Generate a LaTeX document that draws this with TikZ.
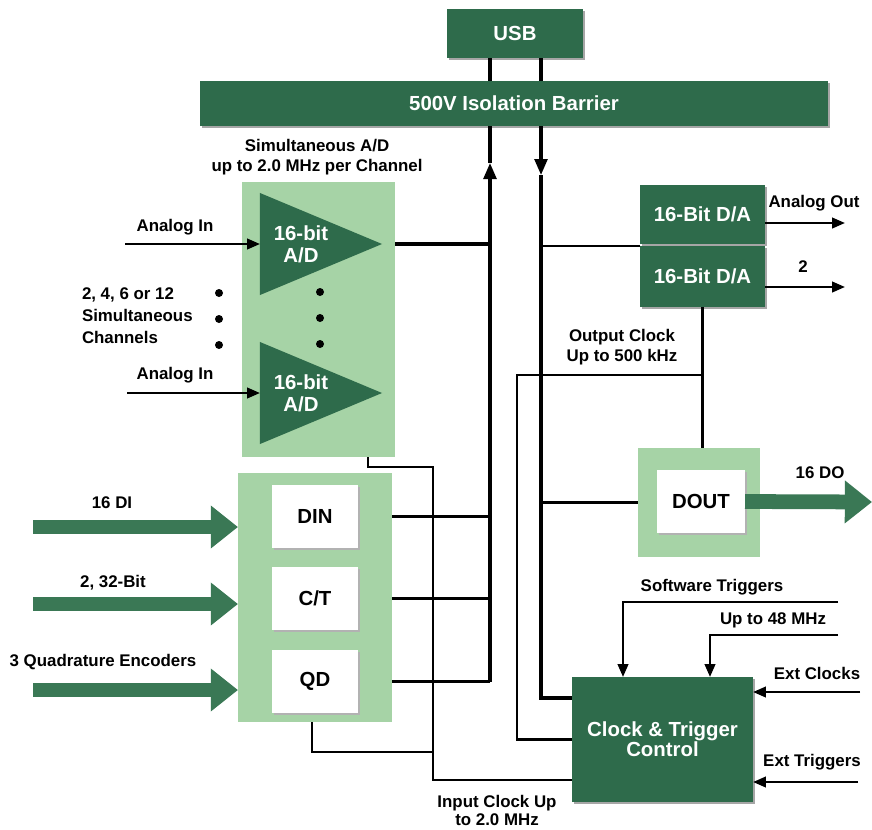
\documentclass[tikz,border=0pt]{standalone}
\usepackage{fontspec}
\setmainfont{Liberation Sans}
\usetikzlibrary{arrows.meta, positioning, shadows}
\definecolor{dagreen}{HTML}{2E6B4B}
\definecolor{ltgreen}{HTML}{A6D3A6}
\definecolor{argreen}{HTML}{3A7855}

\begin{document}
\begin{tikzpicture}[x=0.025cm, y=-0.025cm,
  every node/.style={font=\bfseries\fontsize{12}{14.5}\selectfont, inner sep=0pt, outer sep=0pt, align=center},
  block/.style={rectangle, fill=dagreen, text=white, font=\bfseries\fontsize{14.5}{15}\selectfont, drop shadow={shadow xshift=1.2pt, shadow yshift=-1.2pt, opacity=1, fill=black!35}},
  panel/.style={rectangle, fill=ltgreen},
  button/.style={rectangle, fill=white, font=\bfseries\fontsize{14.5}{15}\selectfont, minimum width=2.15cm, minimum height=1.575cm, drop shadow={shadow xshift=1.5pt, shadow yshift=-1.5pt, opacity=1, fill=black!30}},
  adc/.style={rectangle, minimum width=3.05cm, minimum height=2.55cm, path picture={\fill[dagreen] (path picture bounding box.north west) -- (path picture bounding box.east) -- (path picture bounding box.south west) -- cycle;}},
  adctext/.style={text=white, font=\bfseries\fontsize{14.5}{15.6}\selectfont},
  wire/.style={line width=1.7pt},
  bus/.style={line width=2.2pt},
  tip/.style={-{Triangle[length=3.2mm, width=2.6mm]}},
  bustip/.style={-{Triangle[length=4mm, width=3.2mm]}},
  fat/.style={line width=10.5pt, argreen, -{Triangle[length=6.8mm, width=10.3mm]}},
]
\useasboundingbox (0,0) rectangle (872,829);

% panels
\node[panel, minimum width=3.825cm, minimum height=6.875cm] (adpanel) at (318.5,319.5) {};
\node[panel, minimum width=3.85cm, minimum height=6.225cm] (diopanel) at (315,597.5) {};
\node[panel, minimum width=3.05cm, minimum height=2.725cm] (doutpanel) at (699,502.5) {};

\node[block, minimum width=3.4cm, minimum height=1.225cm] (usb) at (515,33.5) {USB};
\node[block, minimum width=15.7cm, minimum height=1.125cm] (barrier) at (514,103.5) {500V Isolation Barrier};

\node[adc] (adtop) at (321,244) {};
\node[adc] (adbot) at (321,393) {};
\node[adctext] (adtoplbl) at ([xshift=-0.5cm]adtop.center) {16-bit\\A/D};
\node[adctext] (adbotlbl) at ([xshift=-0.5cm]adbot.center) {16-bit\\A/D};
\foreach \y in {293,319,345} {
  \fill (219,\y) circle (1mm);
  \fill (320,\y-1) circle (1mm);
}

\node[button] (din) at (315,516.5) {DIN};
\node[button] (ct) at (315,598.5) {C/T};
\node[button] (qd) at (315,681.5) {QD};

\node[block, minimum width=3.125cm, minimum height=1.475cm] (datop) at (702.5,214.5) {16-Bit D/A};
\node[block, minimum width=3.125cm, minimum height=1.525cm] (dabot) at (702.5,276.5) {16-Bit D/A};
\node[button, minimum width=2.2cm] (dout) at (701,501.5) {DOUT};
\node[block, minimum width=4.525cm, minimum height=3.125cm, font=\bfseries\fontsize{14.5}{14.5}\selectfont] (ctrl) at (662.5,739.5) {Clock \& Trigger\\Control};

% labels
\node[font=\bfseries\fontsize{12}{14.2}\selectfont] (adlbl) at (317,157) {Simultaneous A/D\\up to 2.0 MHz per Channel};
\node (ainAlbl) at (175,227) {Analog In};
\node (ainBlbl) at (175,375) {Analog In};
\node[anchor=west, align=left, font=\bfseries\fontsize{12}{15.6}\selectfont] (chanlbl) at (82,316) {2, 4, 6 or 12\\Simultaneous\\Channels};
\node (dilbl) at (112,503) {16 DI};
\node (cntlbl) at (113,583) {2, 32-Bit};
\node (qdlbl) at (103,662) {3 Quadrature Encoders};
\node (aoutlbl) at (814,203) {Analog Out};
\node (twolbl) at (803,267) {2};
\node (oclklbl) at (622,347) {Output Clock\\Up to 500 kHz};
\node (dolbl) at (820,473) {16 DO};
\node (swlbl) at (712,587) {Software Triggers};
\node (mhzlbl) at (773,620) {Up to 48 MHz};
\node (eclklbl) at (817,673) {Ext Clocks};
\node (etrglbl) at (812,762) {Ext Triggers};
\node[font=\bfseries\fontsize{12}{12.8}\selectfont] (iclklbl) at (497,810) {Input Clock Up\\to 2.0 MHz};

% coordinates
\coordinate (uptip) at (490,163);
\coordinate (dntip) at (541,175);
\coordinate (dnbus) at (541,698);
\coordinate (oclk) at (517,375);
\coordinate (adlow) at (368,467);
\coordinate (iclk) at (433,780);
\coordinate (qdlow) at (312,752);
\coordinate (ainA) at (125,244);
\coordinate (ainB) at (127,393);
\coordinate (diA) at (33,527);
\coordinate (ctA) at (33,604);
\coordinate (qdA) at (33,690);
\coordinate (doend) at (872,502);
\coordinate (aout) at (845,223);
\coordinate (aout2) at (845,287);
\coordinate (swin) at (838,602);
\coordinate (swdn) at (623,602);
\coordinate (mhzin) at (838,635);
\coordinate (mhzdn) at (710,635);
\coordinate (eclk) at (860,692);
\coordinate (etrg) at (858,782);

% buses
\draw[bus] (usb.south -| uptip) -- (barrier.north -| uptip);
\draw[bus] (usb.south -| dntip) -- (barrier.north -| dntip);
\draw[bus, bustip] (qd -| uptip) -- (uptip);
\draw[bus] (uptip) -- (barrier.south -| uptip);
\draw[bus, bustip] (barrier.south -| dntip) -- (dntip);
\draw[bus] (dntip) -- (dnbus) -- (dnbus -| ctrl.west);
\draw[bus] (adtop.east -| adpanel.east) -- (adtop.east -| uptip);
\draw[wire] (diopanel.east |- din) -- (din -| uptip);
\draw[bus] (diopanel.east |- ct) -- (ct -| uptip);
\draw[bus] (diopanel.east |- qd) -- (qd -| uptip);

% wires
\draw[wire, tip] (ainA) -- (adtop.west);
\draw[wire, tip] (ainB) -- (adbot.west);
\draw[wire] (dabot.north west -| dntip) -- (dabot.north west);
\draw[wire] (doutpanel.west -| dntip) -- (doutpanel.west);
\draw[wire] (dabot.south) -- (dabot.south |- doutpanel.north);
\draw[wire] (dabot.south |- oclk) -- (oclk) |- (ctrl.west);
\draw[wire] (adpanel.south -| adlow) -- (adlow) -| (iclk) -- (iclk -| ctrl.west);
\draw[wire] (diopanel.south -| qdlow) -- (qdlow) -- (qdlow -| iclk);
\draw[wire, tip] (aout -| datop.east) -- (aout);
\draw[wire, tip] (aout2 -| dabot.east) -- (aout2);
\draw[wire, tip] (swin) -- (swdn) -- (swdn |- ctrl.north);
\draw[wire, tip] (mhzin) -- (mhzdn) -- (mhzdn |- ctrl.north);
\draw[wire, tip] (eclk) -- (eclk -| ctrl.east);
\draw[wire, tip] (etrg) -- (etrg -| ctrl.east);

% wide arrows
\draw[fat] (diA) -- (diA -| diopanel.west);
\draw[fat] (ctA) -- (ctA -| diopanel.west);
\draw[fat] (qdA) -- (qdA -| diopanel.west);
\draw[fat] (dout.east) -- (doend);
\end{tikzpicture}
\end{document}
